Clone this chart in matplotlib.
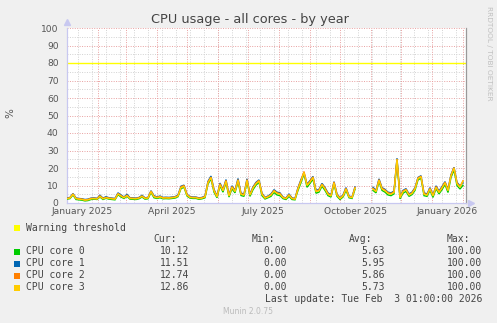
import numpy as np
import matplotlib
matplotlib.use("Agg")
import matplotlib.pyplot as plt
import matplotlib.dates as mdates
from matplotlib.patches import Rectangle

# ---------------- data ----------------
start_date = "2025-01-01"
step_days = 3
nan = float("nan")

core3 = [2.5, 2.8, 5.0, 2.5, 2.2, 2.0, 1.6, 1.8, 2.4, 2.5, 2.3, 3.8, 2.4, 3.0, 2.6, 2.4, 2.2,
         5.2, 4.0, 3.0, 4.2, 2.6, 2.5, 2.4, 2.8, 3.8, 2.6, 2.8, 6.5, 3.6, 3.0, 3.5, 2.8, 2.9,
         2.8, 3.0, 3.2, 4.0, 8.8, 9.5, 4.5, 3.2, 3.0, 3.0, 2.5, 2.8, 3.5, 11.5, 14.5, 7.0, 3.5,
         10.5, 7.0, 12.5, 4.0, 9.0, 6.5, 13.0, 5.0, 4.5, 13.0, 4.5, 8.5, 11.0, 12.5, 5.0, 2.8,
         3.5, 4.5, 6.8, 5.5, 5.0, 3.0, 2.5, 4.5, 2.5, 2.2, 8.0, 12.5, 17.5, 10.0, 12.0, 14.5,
         6.5, 7.0, 10.5, 8.0, 5.0, 4.0, 11.5, 4.5, 2.5, 4.0, 8.0, 3.5, 3.0, 8.5,
         nan, nan, nan, nan, nan,
         8.0, 6.5, 13.0, 8.0, 7.0, 5.5, 5.0, 6.0, 25.0, 3.0, 6.5, 7.5, 4.5, 5.5, 8.0, 14.0,
         15.0, 5.0, 4.5, 8.0, 4.0, 9.0, 6.0, 8.5, 11.5, 7.0, 15.5, 20.0, 11.0, 9.0, 12.5]

core0 = [2.2, 2.5, 4.6, 2.0, 1.8, 1.6, 1.2, 1.4, 2.0, 2.2, 2.0, 3.4, 2.0, 2.7, 2.2, 2.0, 1.8,
         4.8, 3.4, 2.6, 3.8, 2.2, 2.1, 2.0, 2.4, 3.4, 2.2, 2.4, 6.0, 3.0, 2.6, 3.0, 2.4, 2.5,
         2.4, 2.6, 2.8, 3.6, 8.2, 9.0, 4.0, 2.8, 2.6, 2.6, 2.1, 2.4, 3.0, 10.8, 13.8, 6.2, 3.0,
         9.8, 6.2, 11.8, 3.4, 8.2, 5.8, 12.2, 4.3, 3.8, 12.4, 3.8, 7.6, 10.2, 11.8, 4.2, 2.3,
         3.0, 3.8, 6.0, 4.6, 4.2, 2.5, 2.0, 3.8, 2.0, 1.8, 7.2, 11.6, 16.8, 9.0, 11.2, 13.6,
         5.6, 6.2, 9.6, 7.2, 4.2, 3.4, 10.8, 3.8, 2.0, 3.4, 7.2, 3.0, 2.6, 7.8,
         nan, nan, nan, nan, nan,
         7.2, 5.8, 12.2, 7.2, 6.2, 4.6, 4.2, 5.2, 24.0, 2.4, 5.6, 6.6, 3.8, 4.8, 7.2, 13.2,
         14.2, 4.2, 3.8, 7.2, 3.2, 8.2, 5.2, 7.6, 10.6, 6.0, 14.6, 18.8, 10.0, 8.0, 10.1]

core1 = [2.8, 3.2, 5.4, 2.9, 2.6, 2.4, 2.0, 2.2, 2.8, 2.9, 2.7, 4.4, 2.8, 3.6, 3.0, 2.8, 2.6,
         5.8, 4.6, 3.4, 5.0, 3.0, 2.9, 2.8, 3.2, 4.4, 3.0, 3.2, 7.0, 4.2, 3.4, 4.0, 3.2, 3.3,
         3.2, 3.4, 3.6, 4.6, 9.6, 10.2, 5.0, 3.6, 3.4, 3.4, 2.9, 3.2, 4.0, 12.4, 15.4, 7.8, 4.0,
         11.4, 7.8, 13.4, 4.6, 9.8, 7.2, 14.0, 5.6, 5.2, 13.8, 5.2, 9.2, 11.8, 13.2, 5.6, 3.2,
         4.0, 5.2, 7.6, 6.2, 5.8, 3.4, 2.9, 5.2, 2.9, 2.6, 8.8, 13.4, 17.2, 10.8, 12.8, 15.2,
         7.2, 7.8, 11.2, 8.8, 5.8, 4.6, 12.2, 5.2, 2.9, 4.6, 8.8, 4.0, 3.4, 9.2,
         nan, nan, nan, nan, nan,
         9.0, 7.2, 13.8, 8.8, 7.8, 6.2, 5.8, 6.8, 25.6, 3.4, 7.2, 8.2, 5.2, 6.2, 8.8, 14.6,
         15.6, 5.8, 5.2, 8.8, 4.6, 9.8, 6.8, 9.4, 12.2, 7.8, 16.2, 20.4, 11.8, 9.8, 11.5]

core2 = [2.6, 3.0, 5.2, 2.7, 2.4, 2.2, 1.8, 2.0, 2.6, 2.7, 2.5, 4.0, 2.6, 3.2, 2.8, 2.6, 2.4,
         5.4, 4.2, 3.2, 4.4, 2.8, 2.7, 2.6, 3.0, 4.0, 2.8, 3.0, 6.8, 3.8, 3.2, 3.7, 3.0, 3.1,
         3.0, 3.2, 3.4, 4.2, 9.2, 10.0, 4.8, 3.4, 3.2, 3.2, 2.7, 3.0, 3.7, 12.0, 14.8, 7.4, 3.7,
         11.0, 7.4, 13.0, 4.2, 9.4, 6.8, 13.4, 5.2, 4.8, 13.4, 4.8, 8.8, 11.4, 12.9, 5.2, 3.0,
         3.7, 4.8, 7.2, 5.8, 5.4, 3.2, 2.7, 4.8, 2.7, 2.4, 8.4, 13.0, 18.0, 10.4, 12.4, 14.9,
         6.8, 7.4, 10.8, 8.4, 5.4, 4.2, 12.0, 4.8, 2.7, 4.2, 8.4, 3.7, 3.2, 8.9,
         nan, nan, nan, nan, nan,
         8.4, 6.8, 13.4, 8.4, 7.4, 5.8, 5.4, 6.4, 25.2, 3.2, 6.8, 7.8, 4.8, 5.8, 8.4, 14.3,
         15.3, 5.4, 4.8, 8.4, 4.3, 9.4, 6.4, 8.9, 11.9, 7.4, 15.8, 20.2, 11.4, 9.4, 12.7]

warning_threshold = 80

series_names = ["CPU core 0", "CPU core 1", "CPU core 2", "CPU core 3"]
series_colors = ["#00CC00", "#0066B3", "#FF8000", "#FFCC00"]
series_values = [core0, core1, core2, core3]
cur_vals = ["10.12", "11.51", "12.74", "12.86"]
min_vals = ["0.00", "0.00", "0.00", "0.00"]
avg_vals = ["5.63", "5.95", "5.86", "5.73"]
max_vals = ["100.00", "100.00", "100.00", "100.00"]

y_ticks = [0, 10, 20, 30, 40, 50, 60, 70, 80, 90, 100]
x_label_dates = ["2025-01-16", "2025-04-16", "2025-07-16", "2025-10-16", "2026-01-16"]
x_labels = ["January 2025", "April 2025", "July 2025", "October 2025", "January 2026"]
title = "CPU usage - all cores - by year"
last_update = "Last update: Tue Feb  3 01:00:00 2026"

# ---------------- figure ----------------
W, H = 497, 323
fig = plt.figure(figsize=(W / 100, H / 100), dpi=100)
fig.patch.set_facecolor("#F0F0F0")

def fx(px):
    return px / W

def fy(py):
    return 1 - py / H

ax = fig.add_axes([fx(67), fy(203), fx(466) - fx(67), fy(28) - fy(203)])
ax.set_facecolor("white")

n = len(core3)
dates = np.datetime64(start_date) + np.arange(n) * np.timedelta64(step_days, "D")
dnum = mdates.date2num(dates.astype("datetime64[s]").astype(object))

x0 = mdates.date2num(np.datetime64("2025-01-01").astype(object))
x1 = mdates.date2num(np.datetime64("2026-02-04").astype(object))
ax.set_xlim(x0, x1)
ax.set_ylim(0, 100)

red_grid = "#E8A0A0"
gray_grid = "#D2D2D2"
dots = (0, (1, 1.5))

# minor horizontal grid
for v in range(5, 100, 10):
    ax.axhline(v, color=gray_grid, lw=0.7, ls=dots, zorder=1)
for v in y_ticks[1:]:
    if v != warning_threshold:
        ax.axhline(v, color=red_grid, lw=0.7, ls=dots, zorder=1)

# minor vertical grid every 14 days
d = np.datetime64("2025-01-12")
while d < np.datetime64("2026-02-04"):
    ax.axvline(mdates.date2num(d.astype(object)), color=gray_grid, lw=0.7, ls=dots, zorder=1)
    d = d + np.timedelta64(14, "D")
# major vertical grid at month starts
m = np.datetime64("2025-02", "M")
while m <= np.datetime64("2026-02", "M"):
    ax.axvline(mdates.date2num(m.astype("datetime64[D]").astype(object)),
               color=red_grid, lw=0.7, ls=dots, zorder=1)
    m = m + np.timedelta64(1, "M")

ax.axhline(warning_threshold, color="#FFFF00", lw=1.0, zorder=2)

for vals, col in zip(series_values, series_colors):
    ax.plot(dnum, vals, color=col, lw=1.0, zorder=3, solid_joinstyle="miter")

# axes styling
for s in ["top"]:
    ax.spines[s].set_visible(False)
ax.spines["left"].set_color("#C8C8F0")
ax.spines["bottom"].set_color("#C8C8F0")
ax.spines["right"].set_color("#999999")
for s in ["left", "bottom", "right"]:
    ax.spines[s].set_linewidth(0.9)

ax.set_yticks(y_ticks)
ax.set_yticklabels([str(t) for t in y_ticks])
lab_pos = [mdates.date2num(np.datetime64(s).astype(object)) for s in x_label_dates]
ax.set_xticks(lab_pos)
ax.set_xticklabels(x_labels)
ax.tick_params(axis="both", length=0, labelsize=6.6, colors="#555555")
ax.tick_params(axis="y", pad=6)
ax.tick_params(axis="x", pad=3)
for lbl in ax.get_xticklabels() + ax.get_yticklabels():
    lbl.set_color("#555555")

# arrows on axes
ax.plot([0], [1.035], marker="^", color="#C8C8F0", markersize=4, transform=ax.transAxes, clip_on=False)
ax.plot([1.012], [0], marker=">", color="#C8C8F0", markersize=4, transform=ax.transAxes, clip_on=False)

# texts
fig.text(fx(250), fy(19), title, ha="center", va="center", fontsize=9.3, color="#444444")
fig.text(fx(10), fy(113), "%", ha="center", va="center", rotation=90, fontsize=7.5, color="#555555")
fig.text(fx(489), fy(53), "RRDTOOL / TOBI OETIKER", ha="center", va="center", rotation=270,
         fontsize=5.3, color="#C0C0C0")

mono = "DejaVu Sans Mono"
fs = 7.0
tc = "#444444"

def square(px, py, col):
    fig.patches.append(Rectangle((fx(14), fy(py + 3)), fx(6), fy(py - 3) - fy(py + 3),
                                 transform=fig.transFigure, facecolor=col, edgecolor="none"))

square(14, 228, "#FFFF00")
fig.text(fx(26), fy(228), "Warning threshold", ha="left", va="center", fontsize=fs, family=mono, color=tc)

for txt, xr in zip(["Cur:", "Min:", "Avg:", "Max:"], [177, 275, 372, 470]):
    fig.text(fx(xr), fy(239.5), txt, ha="right", va="center", fontsize=fs, family=mono, color=tc)

row_y = [251.5, 263.5, 275.5, 287.5]
for i, name in enumerate(series_names):
    y = row_y[i]
    square(14, y, series_colors[i])
    fig.text(fx(26), fy(y), name, ha="left", va="center", fontsize=fs, family=mono, color=tc)
    for val, xr in zip([cur_vals[i], min_vals[i], avg_vals[i], max_vals[i]], [189, 287, 385, 482]):
        fig.text(fx(xr), fy(y), val, ha="right", va="center", fontsize=fs, family=mono, color=tc)

fig.text(fx(482), fy(299.5), last_update, ha="right", va="center", fontsize=fs, family=mono, color=tc)
fig.text(fx(248), fy(312), "Munin 2.0.75", ha="center", va="center", fontsize=5.5, color="#BBBBBB")

fig.savefig("out.png", dpi=100, facecolor=fig.get_facecolor())
